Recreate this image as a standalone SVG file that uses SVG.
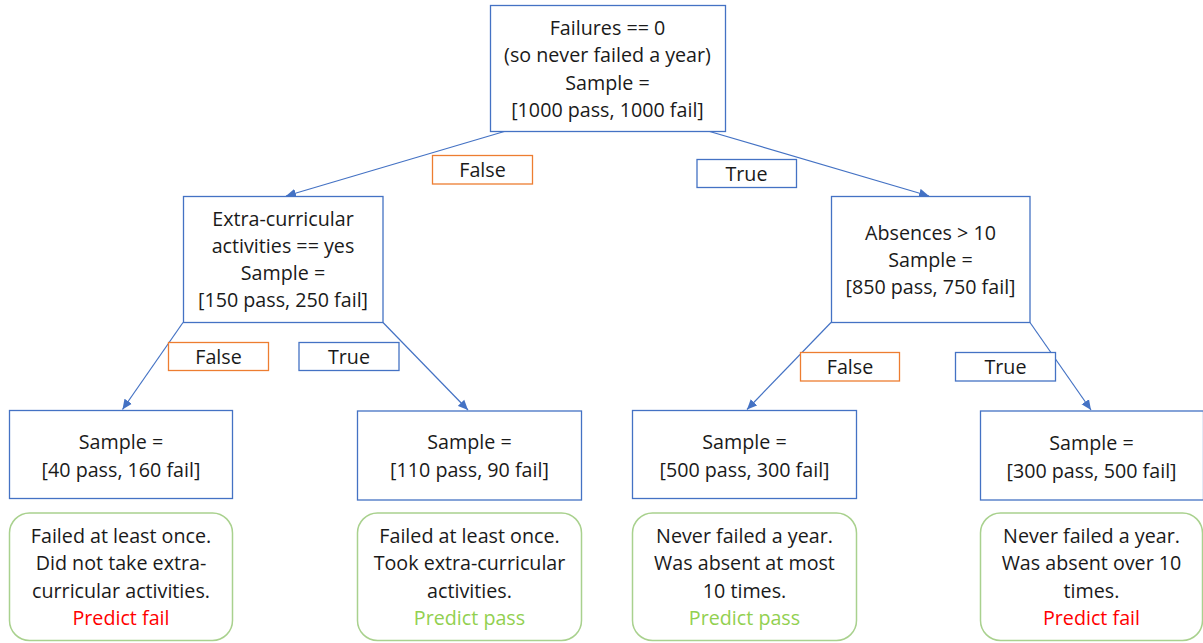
<svg xmlns="http://www.w3.org/2000/svg" width="1203" height="643" viewBox="0 0 1203 643">
<defs>
<marker id="arr" markerUnits="userSpaceOnUse" markerWidth="12" markerHeight="10" refX="10" refY="5" orient="auto">
<path d="M0,0.5 L10,5 L0,9.5 Z" fill="#4472C4"/>
</marker>
<style>
.box{fill:#fff;stroke:#4472C4;stroke-width:1.3}
.leaf{fill:#fff;stroke:#A9D18E;stroke-width:1.5}
.lblF{fill:#fff;stroke:#ED7D31;stroke-width:1.3}
.lblT{fill:#fff;stroke:#4472C4;stroke-width:1.3}
text{font-family:"Open Sans","Liberation Sans",Arial,sans-serif;font-size:19.7px;fill:#1a1a1a;text-anchor:middle}
.red{fill:#FF0000}
.grn{fill:#92D050}
.con{stroke:#4472C4;stroke-width:1.2;fill:none}
</style>
</defs>
<rect width="1203" height="643" fill="#fff"/>

<g id="connectors">
<line class="con" x1="506" y1="131" x2="286" y2="196" marker-end="url(#arr)"/>
<line class="con" x1="708" y1="131" x2="929" y2="196" marker-end="url(#arr)"/>
<line class="con" x1="183" y1="322.5" x2="122.5" y2="409.5" marker-end="url(#arr)"/>
<line class="con" x1="383" y1="322.5" x2="468" y2="410" marker-end="url(#arr)"/>
<line class="con" x1="831" y1="322.5" x2="747" y2="409.5" marker-end="url(#arr)"/>
<line class="con" x1="1030" y1="322.5" x2="1091" y2="410" marker-end="url(#arr)"/>
</g>

<g id="root">
<rect class="box" x="490.5" y="5.5" width="235" height="126"/>
<text x="607.5" y="34.5">Failures == 0</text>
<text x="607.5" y="62">(so never failed a year)</text>
<text x="607.5" y="89.5">Sample =</text>
<text x="607.5" y="117">[1000 pass, 1000 fail]</text>
</g>

<g id="label-false-1">
<rect class="lblF" x="432.5" y="155.5" width="100" height="28.5"/>
<text x="482.5" y="176.5">False</text>
</g>
<g id="label-true-1">
<rect class="lblT" x="697" y="159.5" width="99.5" height="28"/>
<text x="746.5" y="180.5">True</text>
</g>

<g id="extra">
<rect class="box" x="183.5" y="196.5" width="199.5" height="126"/>
<text x="283" y="226">Extra-curricular</text>
<text x="283" y="253">activities == yes</text>
<text x="283" y="280">Sample =</text>
<text x="283" y="307">[150 pass, 250 fail]</text>
</g>

<g id="absences">
<rect class="box" x="831.5" y="196.5" width="198.5" height="126"/>
<text x="930.5" y="240">Absences &gt; 10</text>
<text x="930.5" y="267">Sample =</text>
<text x="930.5" y="294">[850 pass, 750 fail]</text>
</g>

<g id="label-false-2">
<rect class="lblF" x="168.5" y="342.5" width="100" height="28"/>
<text x="218.5" y="363.5">False</text>
</g>
<g id="label-true-2">
<rect class="lblT" x="299" y="342.5" width="100" height="28"/>
<text x="349" y="363.5">True</text>
</g>
<g id="label-false-3">
<rect class="lblF" x="800.5" y="352.5" width="99" height="28.5"/>
<text x="850" y="374">False</text>
</g>
<g id="label-true-3">
<rect class="lblT" x="955.5" y="352.5" width="100" height="28.5"/>
<text x="1005.5" y="374">True</text>
</g>

<g id="leaf1">
<rect class="box" x="9.5" y="410.5" width="223" height="88"/>
<text x="121" y="448.5">Sample =</text>
<text x="121" y="476.5">[40 pass, 160 fail]</text>
</g>
<g id="leaf2">
<rect class="box" x="357.5" y="411" width="224" height="89"/>
<text x="469.5" y="449">Sample =</text>
<text x="469.5" y="477">[110 pass, 90 fail]</text>
</g>
<g id="leaf3">
<rect class="box" x="632.5" y="410.5" width="224" height="88"/>
<text x="744.5" y="448.5">Sample =</text>
<text x="744.5" y="476.5">[500 pass, 300 fail]</text>
</g>
<g id="leaf4">
<rect class="box" x="980.5" y="411" width="223" height="89"/>
<text x="1091.5" y="450">Sample =</text>
<text x="1091.5" y="477.5">[300 pass, 500 fail]</text>
</g>

<g id="result1">
<rect class="leaf" x="9.5" y="513" width="223" height="127.5" rx="20"/>
<text x="121" y="542.5">Failed at least once.</text>
<text x="121" y="570">Did not take extra-</text>
<text x="121" y="597.5">curricular activities.</text>
<text x="121" y="625" class="red">Predict fail</text>
</g>
<g id="result2">
<rect class="leaf" x="357.5" y="513" width="224" height="127.5" rx="20"/>
<text x="469.5" y="542.5">Failed at least once.</text>
<text x="469.5" y="570">Took extra-curricular</text>
<text x="469.5" y="597.5">activities.</text>
<text x="469.5" y="625" class="grn">Predict pass</text>
</g>
<g id="result3">
<rect class="leaf" x="632.5" y="513" width="224" height="127.5" rx="20"/>
<text x="744.5" y="542.5">Never failed a year.</text>
<text x="744.5" y="570">Was absent at most</text>
<text x="744.5" y="597.5">10 times.</text>
<text x="744.5" y="625" class="grn">Predict pass</text>
</g>
<g id="result4">
<rect class="leaf" x="980.5" y="513" width="222" height="127.5" rx="20"/>
<text x="1091.5" y="542.5">Never failed a year.</text>
<text x="1091.5" y="570">Was absent over 10</text>
<text x="1091.5" y="597.5">times.</text>
<text x="1091.5" y="625" class="red">Predict fail</text>
</g>
</svg>
